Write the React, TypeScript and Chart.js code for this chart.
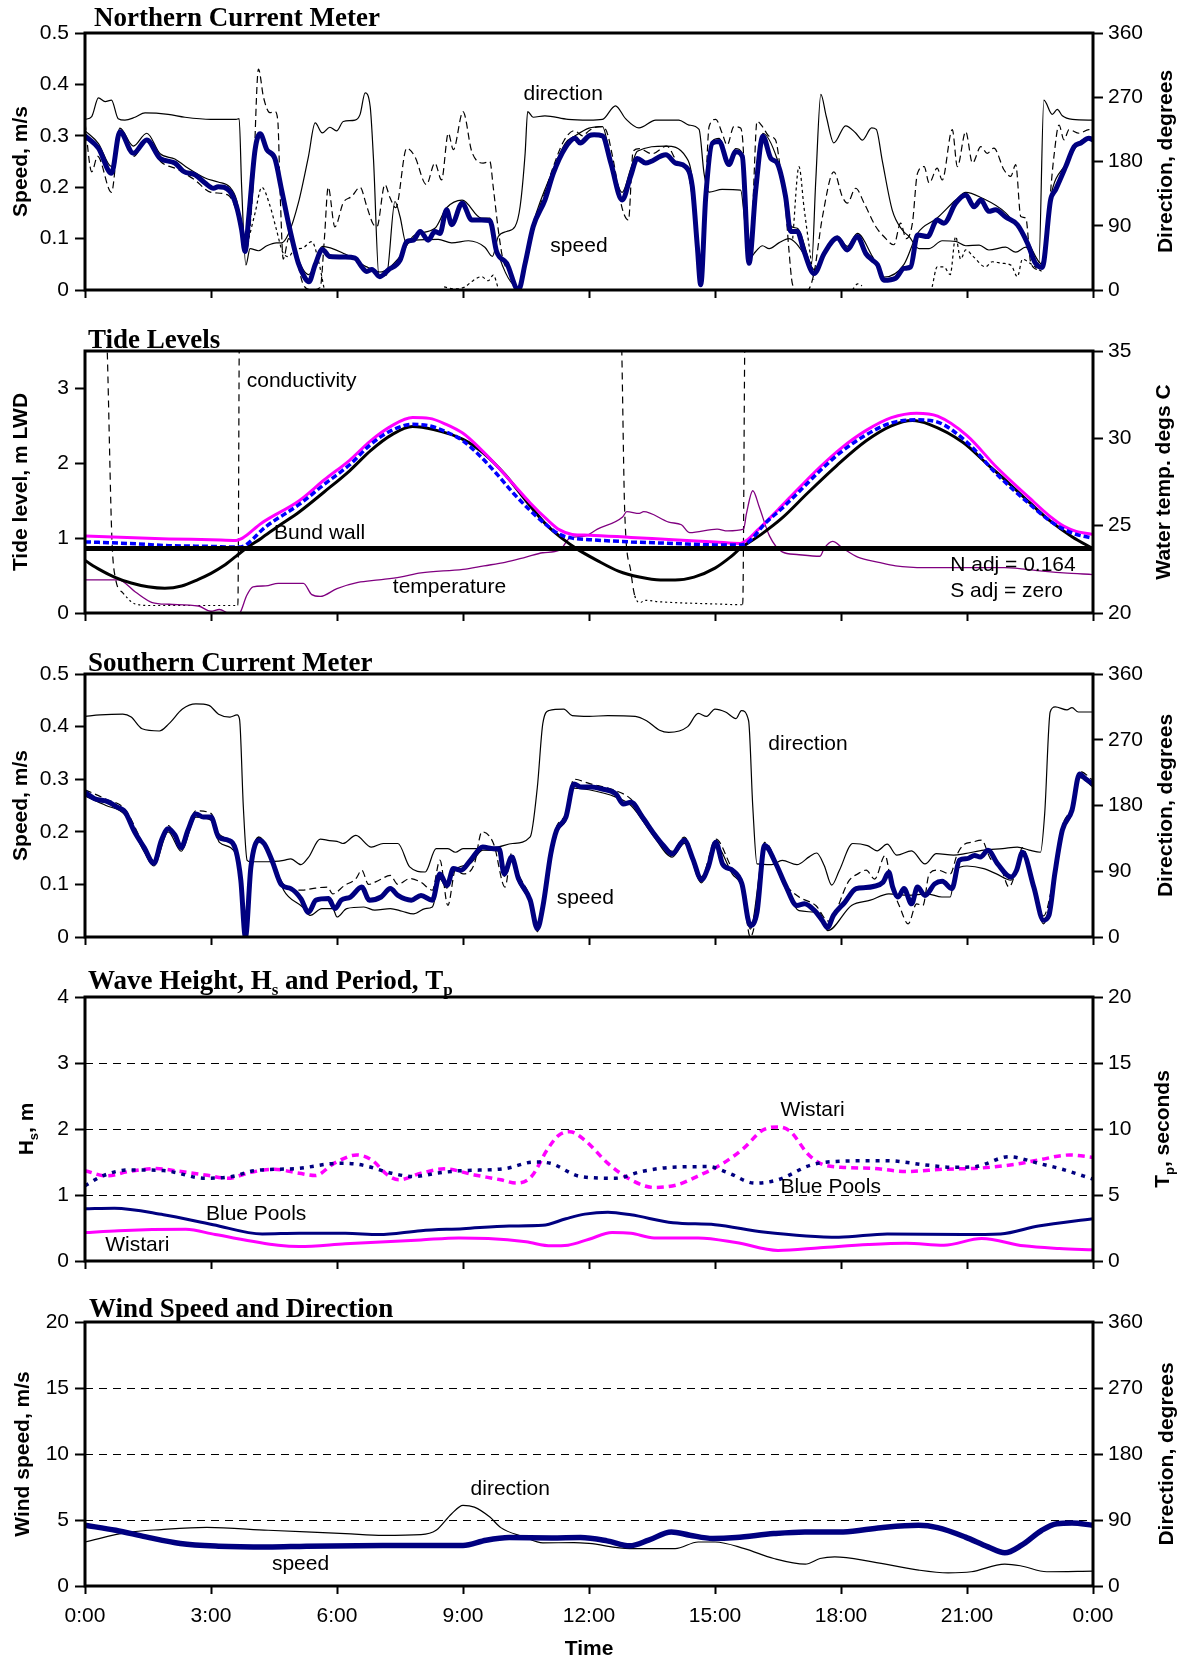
import React, { useEffect, useRef } from "react";
import { Chart, registerables } from "chart.js";

Chart.register(...registerables);

type Pt = [number, number | null];

// ---------------- shared ----------------
const timeLabels = ["0:00", "3:00", "6:00", "9:00", "12:00", "15:00", "18:00", "21:00", "0:00"];

// ---------------- Northern Current Meter ----------------
const northSpeedMid: Pt[] = [
  [0, 0.3], [0.32, 0.276], [0.63, 0.227], [0.83, 0.308], [1.15, 0.266], [1.47, 0.292], [1.79, 0.256], [2.14, 0.247],
  [2.34, 0.231], [2.62, 0.224], [2.86, 0.208], [3.06, 0.198], [3.17, 0.201], [3.45, 0.192], [3.61, 0.162], [3.73, 0.117],
  [3.81, 0.075], [3.9, 0.143], [4.05, 0.273], [4.17, 0.304], [4.33, 0.273], [4.52, 0.256], [4.68, 0.195], [4.88, 0.117],
  [5.08, 0.052], [5.24, 0.023], [5.33, 0.016], [5.48, 0.049], [5.65, 0.079], [5.83, 0.065], [6.19, 0.064], [6.43, 0.062],
  [6.59, 0.045], [6.71, 0.036], [6.83, 0.04], [7.02, 0.026], [7.22, 0.039], [7.5, 0.058], [7.66, 0.094], [7.82, 0.097],
  [7.98, 0.114], [8.17, 0.097], [8.33, 0.114], [8.45, 0.11], [8.61, 0.156], [8.73, 0.127], [8.98, 0.169], [9.21, 0.136],
  [9.44, 0.136], [9.64, 0.135], [9.8, 0.075], [10.04, 0.052], [10.32, 0.0], [10.48, 0.052], [10.67, 0.123], [10.95, 0.175],
  [11.15, 0.227], [11.43, 0.276], [11.67, 0.295], [11.79, 0.286], [12.0, 0.3], [12.12, 0.302], [12.32, 0.3], [12.52, 0.247],
  [12.79, 0.175], [12.99, 0.221], [13.15, 0.256], [13.35, 0.247], [13.83, 0.263], [14.06, 0.247], [14.3, 0.24], [14.46, 0.201],
  [14.58, 0.084], [14.66, 0.01], [14.78, 0.182], [14.94, 0.286], [15.1, 0.289], [15.33, 0.244], [15.49, 0.269], [15.65, 0.26],
  [15.81, 0.052], [15.97, 0.195], [16.14, 0.299], [16.33, 0.256], [16.48, 0.247], [16.68, 0.182], [16.8, 0.114], [16.96, 0.114],
  [17.12, 0.075], [17.36, 0.032], [17.6, 0.071], [17.91, 0.101], [18.15, 0.078], [18.39, 0.104], [18.59, 0.071], [18.75, 0.058],
  [18.87, 0.049], [19.02, 0.019], [19.3, 0.023], [19.5, 0.042], [19.66, 0.045], [19.82, 0.107], [20.06, 0.104], [20.29, 0.136],
  [20.45, 0.13], [20.73, 0.169], [20.97, 0.185], [21.17, 0.162], [21.33, 0.175], [21.52, 0.153], [21.68, 0.156], [21.92, 0.142],
  [22.2, 0.127], [22.44, 0.091], [22.63, 0.052], [22.79, 0.044], [22.99, 0.175], [23.11, 0.195], [23.35, 0.24], [23.55, 0.279],
  [23.71, 0.286], [23.9, 0.295], [24, 0.292],
];

const northSpeedBed: Pt[] = [
  [0, 0.31], [0.32, 0.285], [0.63, 0.24], [0.83, 0.315], [1.15, 0.28], [1.47, 0.305], [1.79, 0.265], [2.14, 0.255],
  [2.4, 0.24], [2.86, 0.218], [3.17, 0.21], [3.45, 0.2], [3.61, 0.175], [3.73, 0.12], [3.81, 0.08], [3.9, 0.14],
  [4.05, 0.27], [4.17, 0.3], [4.33, 0.27], [4.52, 0.25], [4.68, 0.19], [4.88, 0.12], [5.08, 0.06], [5.33, 0.03],
  [5.65, 0.085], [6.19, 0.07], [6.71, 0.045], [7.02, 0.035], [7.5, 0.065], [7.82, 0.105], [8.33, 0.12], [8.61, 0.16],
  [8.98, 0.175], [9.44, 0.14], [9.64, 0.14], [9.8, 0.08], [10.32, 0.005], [10.67, 0.13], [11.15, 0.235], [11.43, 0.285],
  [11.67, 0.3], [12.0, 0.315], [12.32, 0.318], [12.52, 0.255], [12.79, 0.19], [12.99, 0.235], [13.15, 0.27], [13.83, 0.28],
  [14.3, 0.26], [14.46, 0.215], [14.58, 0.09], [14.66, 0.02], [14.78, 0.19], [14.94, 0.29], [15.1, 0.295], [15.33, 0.25],
  [15.49, 0.275], [15.65, 0.265], [15.81, 0.06], [15.97, 0.2], [16.14, 0.305], [16.48, 0.255], [16.68, 0.19], [16.8, 0.125],
  [16.96, 0.12], [17.36, 0.04], [17.6, 0.075], [17.91, 0.105], [18.15, 0.085], [18.39, 0.11], [18.75, 0.065], [19.02, 0.025],
  [19.5, 0.05], [19.82, 0.11], [20.29, 0.14], [20.73, 0.175], [20.97, 0.19], [21.33, 0.18], [21.92, 0.15], [22.44, 0.095],
  [22.79, 0.05], [22.99, 0.18], [23.35, 0.245], [23.71, 0.29], [24, 0.298],
];

const northSpeedSurface: Pt[] = [
  [0, 0.325], [0.16, 0.23], [0.3, 0.26], [0.63, 0.19], [0.83, 0.31], [1.15, 0.26], [1.47, 0.29], [1.8, 0.25], [2.2, 0.235],
  [2.6, 0.215], [3.0, 0.19], [3.4, 0.185], [3.6, 0.155], [3.75, 0.1], [3.83, 0.075], [4.0, 0.2], [4.13, 0.43], [4.25, 0.375],
  [4.4, 0.345], [4.52, 0.347], [4.59, 0.33], [4.65, 0.18], [4.72, 0.06], [4.85, 0.1], [5.0, 0.075], [5.2, 0.01], [5.4, 0.0],
  [5.6, 0.005], [5.7, 0.1], [5.79, 0.2], [5.95, 0.123], [6.15, 0.17], [6.35, 0.182], [6.55, 0.2], [6.7, 0.165], [6.85, 0.13],
  [6.95, 0.123], [7.14, 0.205], [7.26, 0.18], [7.4, 0.16], [7.66, 0.276], [7.85, 0.26], [8.13, 0.205], [8.33, 0.247],
  [8.49, 0.214], [8.65, 0.305], [8.77, 0.273], [9.0, 0.347], [9.21, 0.269], [9.48, 0.247], [9.64, 0.25], [9.72, 0.2],
  [9.84, 0.117], [9.95, 0.06], [10.15, 0.03], [10.32, 0.0], [10.5, 0.05], [10.7, 0.13], [10.95, 0.19], [11.15, 0.24],
  [11.4, 0.29], [11.65, 0.31], [11.85, 0.3], [12.0, 0.31], [12.24, 0.318], [12.4, 0.312], [12.56, 0.26], [12.8, 0.156],
  [12.94, 0.136], [13.05, 0.27], [13.2, 0.275], [13.5, 0.265], [13.85, 0.28], [14.1, 0.25], [14.35, 0.23], [14.5, 0.15],
  [14.6, 0.05], [14.68, 0.01], [14.78, 0.2], [14.86, 0.318], [15.02, 0.332], [15.17, 0.305], [15.29, 0.282], [15.45, 0.318],
  [15.61, 0.315], [15.67, 0.279], [15.77, 0.065], [15.85, 0.05], [15.92, 0.2], [16.0, 0.328], [16.13, 0.318], [16.29, 0.299],
  [16.44, 0.292], [16.56, 0.234], [16.68, 0.16], [16.76, 0.078], [16.84, 0.013], [16.95, 0.0], [17.2, 0.0], [17.35, 0.03],
  [17.56, 0.143], [17.83, 0.23], [18.03, 0.182], [18.15, 0.169], [18.35, 0.198], [18.55, 0.169], [18.83, 0.123], [19.02, 0.104],
  [19.26, 0.088], [19.42, 0.13], [19.55, 0.1], [19.7, 0.13], [19.82, 0.227], [19.98, 0.24], [20.1, 0.208], [20.29, 0.237],
  [20.41, 0.214], [20.65, 0.312], [20.77, 0.24], [20.97, 0.308], [21.13, 0.247], [21.33, 0.279], [21.48, 0.266], [21.64, 0.276],
  [21.88, 0.234], [22.04, 0.221], [22.16, 0.244], [22.28, 0.143], [22.4, 0.14], [22.52, 0.052], [22.7, 0.04], [22.87, 0.09],
  [23.07, 0.26], [23.19, 0.321], [23.31, 0.292], [23.43, 0.312], [23.67, 0.305], [23.9, 0.312], [24, 0.308],
];

// direction, degrees
const northDirection: Pt[] = [
  [0, 239], [0.16, 243], [0.32, 269], [0.48, 264], [0.63, 266], [0.79, 240], [0.95, 238], [1.19, 242], [1.43, 248],
  [1.98, 246], [2.38, 242], [3.0, 239], [3.6, 239], [3.67, 240], [3.73, 144], [3.83, 35], [3.93, 58], [4.13, 55],
  [4.33, 62], [4.56, 66], [4.68, 66], [4.84, 78], [5.08, 122], [5.32, 187], [5.48, 234], [5.65, 220], [5.83, 228],
  [5.99, 223], [6.15, 236], [6.43, 238], [6.55, 246], [6.67, 276], [6.79, 257], [6.87, 182], [7.0, 19], [7.18, 21],
  [7.38, 124], [7.5, 103], [7.65, 65], [7.86, 70], [8.41, 71], [8.73, 66], [9.13, 69], [9.52, 60], [9.7, 47], [9.84, 75],
  [10.04, 82], [10.24, 89], [10.36, 117], [10.48, 192], [10.54, 250], [10.67, 242], [10.95, 244], [11.5, 239], [12, 238],
  [12.32, 239], [12.63, 258], [12.87, 240], [13.19, 227], [13.59, 238], [14.14, 238], [14.38, 231], [14.62, 225],
  [14.74, 163], [14.86, 137], [15.17, 141], [15.61, 140], [15.73, 84], [15.83, 45], [15.97, 54], [16.13, 62], [16.29, 58],
  [16.52, 66], [16.76, 72], [16.92, 66], [17.16, 47], [17.3, 37], [17.4, 154], [17.52, 274], [17.65, 243], [17.83, 206],
  [18.11, 230], [18.35, 220], [18.51, 210], [18.73, 227], [18.84, 225], [18.98, 182], [19.22, 112], [19.46, 84], [19.62, 75],
  [19.86, 58], [20.1, 58], [20.41, 69], [20.73, 68], [20.97, 62], [21.29, 63], [21.52, 56], [21.92, 60], [22.16, 53],
  [22.4, 60], [22.6, 42], [22.71, 37], [22.83, 266], [23.03, 246], [23.15, 253], [23.27, 244], [23.51, 239], [24, 238],
];

const northTraceLow: Pt[] = [
  [3.9, 0.1], [4.05, 0.15], [4.21, 0.2], [4.4, 0.165], [4.55, 0.12], [4.7, 0.075], [4.85, 0.065], [5.0, 0.08], [5.16, 0.081],
  [5.4, 0.094], [5.55, 0.06], [5.7, 0.0], [5.75, null], [8.5, null], [8.55, 0.006], [8.8, 0.002], [9.05, 0.006], [9.2, 0.016],
  [9.44, 0.026], [9.6, 0.018], [9.72, 0.029], [9.85, 0.0], [9.9, null], [16.8, null], [16.85, 0.1], [17.0, 0.24], [17.12, 0.16],
  [17.25, 0.08], [17.35, 0.02], [17.45, null], [18.2, null], [18.27, 0.0], [18.4, 0.012], [18.5, 0.008], [18.6, null],
  [20.1, null], [20.17, 0.006], [20.29, 0.045], [20.45, 0.045], [20.6, 0.03], [20.73, 0.104], [20.85, 0.06], [20.97, 0.078],
  [21.15, 0.065], [21.44, 0.045], [21.6, 0.055], [21.84, 0.052], [22.05, 0.048], [22.2, 0.026], [22.32, 0.06], [22.5, 0.052],
  [22.67, 0.042], [22.8, 0.035],
];

// ---------------- Tide Levels ----------------
const bundWall: Pt[] = [[0, 0.86], [24, 0.86]];

const tideNorth: Pt[] = [
  [0, 1.03], [1, 1.01], [2, 0.99], [3, 0.98], [3.6, 0.97], [3.75, 1.0], [4.2, 1.2], [5.1, 1.5], [5.7, 1.78], [6.3, 2.04],
  [6.8, 2.3], [7.3, 2.5], [7.8, 2.61], [8.2, 2.6], [8.6, 2.52], [9.0, 2.4], [9.4, 2.2], [9.8, 1.97], [10.2, 1.72], [10.6, 1.47],
  [11.0, 1.25], [11.3, 1.11], [11.6, 1.05], [12, 1.04], [13, 1.01], [14, 0.98], [15, 0.95], [15.6, 0.93], [15.75, 0.97],
  [16.0, 1.1], [16.5, 1.38], [17.0, 1.67], [17.5, 1.95], [18.0, 2.2], [18.6, 2.44], [19.2, 2.61], [19.8, 2.67], [20.3, 2.63],
  [21.0, 2.37], [21.7, 1.95], [22.5, 1.53], [23.0, 1.28], [23.3, 1.16], [23.6, 1.09], [24, 1.05],
];

const tideSouth: Pt[] = [
  [0, 0.95], [1, 0.93], [2, 0.9], [3, 0.89], [3.6, 0.88], [3.8, 0.9], [4.3, 1.15], [5.1, 1.45], [5.7, 1.72], [6.3, 1.98],
  [6.8, 2.25], [7.3, 2.44], [7.8, 2.52], [8.2, 2.5], [8.6, 2.42], [9.0, 2.3], [9.4, 2.1], [9.8, 1.86], [10.2, 1.6], [10.6, 1.37],
  [11.0, 1.17], [11.3, 1.05], [11.6, 1.0], [12, 0.98], [13, 0.95], [14, 0.93], [15, 0.91], [15.6, 0.91], [15.8, 0.95],
  [16.2, 1.2], [16.6, 1.4], [17.0, 1.62], [17.5, 1.9], [18.0, 2.15], [18.6, 2.38], [19.2, 2.54], [19.8, 2.58], [20.3, 2.55],
  [21.0, 2.28], [21.7, 1.86], [22.5, 1.45], [23.0, 1.22], [23.3, 1.12], [23.6, 1.05], [24, 1.0],
];

const tidePredicted: Pt[] = [
  [0, 0.7], [0.35, 0.58], [0.7, 0.48], [1.1, 0.4], [1.5, 0.35], [1.9, 0.33], [2.3, 0.36], [2.7, 0.45], [3.0, 0.53],
  [3.3, 0.63], [3.6, 0.76], [3.83, 0.86], [4.2, 1.0], [4.6, 1.16], [5.1, 1.35], [5.7, 1.62], [6.3, 1.9], [6.8, 2.17],
  [7.3, 2.38], [7.8, 2.49], [8.3, 2.45], [9.0, 2.32], [9.5, 2.13], [10.0, 1.85], [10.5, 1.5], [11.0, 1.17], [11.4, 0.98],
  [11.7, 0.86], [12.2, 0.7], [12.7, 0.56], [13.2, 0.48], [13.7, 0.44], [14.05, 0.44], [14.5, 0.48], [15.0, 0.6], [15.35, 0.74],
  [15.6, 0.86], [16.1, 1.05], [16.6, 1.27], [17.2, 1.6], [17.9, 1.97], [18.6, 2.3], [19.2, 2.5], [19.7, 2.57], [20.1, 2.52],
  [20.9, 2.28], [21.5, 1.98], [22.0, 1.73], [22.5, 1.47], [23.0, 1.22], [23.5, 1.02], [24, 0.86],
];

// off-scale conductivity trace, in tide-axis units
const conductivityTrace: Pt[] = [
  [0, 4], [0.5, 4], [0.53, 3.5], [0.64, 1.0], [0.73, 0.45], [0.9, 0.27], [1.2, 0.12], [1.6, 0.1], [3.64, 0.1], [3.68, 4],
  [12.75, 4], [12.85, 1.36], [13.0, 0.54], [13.09, 0.23], [13.23, 0.14], [13.32, 0.17], [13.68, 0.15], [15.05, 0.12],
  [15.66, 0.11], [15.72, 4], [24, 4],
];

// water temperature, deg C
const waterTemp: Pt[] = [
  [0, 21.9], [0.8, 21.9], [1.2, 21.2], [1.6, 20.6], [2.0, 20.5], [2.7, 20.4], [3.0, 20.1], [3.2, 20.2], [3.4, 20.0],
  [3.6, 19.85], [3.7, 20.05], [3.85, 21.0], [4.0, 21.5], [4.3, 21.55], [4.6, 21.7], [5.2, 21.7], [5.4, 21.05], [5.6, 20.95],
  [6.0, 21.4], [6.5, 21.75], [7.0, 21.9], [7.5, 22.06], [8.0, 22.3], [9.0, 22.5], [9.5, 22.7], [10.0, 22.9], [10.5, 23.2],
  [10.9, 23.45], [11.3, 23.6], [11.55, 24.3], [11.9, 24.4], [12.2, 24.8], [12.8, 25.5], [12.9, 25.8], [13.2, 25.7],
  [13.3, 25.8], [13.9, 25.2], [14.2, 25.05], [14.4, 24.6], [15.05, 24.8], [15.3, 24.7], [15.68, 24.8], [15.75, 25.7],
  [15.9, 27.0], [16.05, 26.1], [16.3, 24.4], [16.6, 23.5], [16.95, 23.35], [17.5, 23.25], [17.6, 23.7], [17.8, 24.1],
  [18.05, 23.7], [18.4, 23.2], [18.9, 22.9], [19.3, 22.7], [20.0, 22.6], [21.0, 22.6], [21.9, 22.6], [22.8, 22.4],
  [23.3, 22.3], [24, 22.2],
];

// ---------------- Southern Current Meter ----------------
const southSpeedMid: Pt[] = [
  [0, 0.275], [0.23, 0.263], [0.55, 0.257], [0.77, 0.247], [0.95, 0.238], [1.18, 0.2], [1.41, 0.17], [1.64, 0.14],
  [1.82, 0.184], [1.98, 0.206], [2.14, 0.194], [2.29, 0.17], [2.45, 0.203], [2.64, 0.234], [2.82, 0.228], [3.0, 0.228],
  [3.18, 0.19], [3.41, 0.184], [3.59, 0.165], [3.71, 0.108], [3.82, 0.0], [3.95, 0.133], [4.14, 0.184], [4.27, 0.177],
  [4.45, 0.146], [4.68, 0.099], [4.9, 0.092], [5.14, 0.073], [5.32, 0.047], [5.5, 0.07], [5.8, 0.073], [5.95, 0.054],
  [6.1, 0.07], [6.32, 0.076], [6.59, 0.095], [6.77, 0.07], [7.05, 0.076], [7.27, 0.092], [7.45, 0.079], [7.77, 0.07],
  [8.0, 0.079], [8.27, 0.07], [8.45, 0.12], [8.62, 0.098], [8.77, 0.13], [8.95, 0.127], [9.18, 0.146], [9.47, 0.171],
  [9.73, 0.168], [9.86, 0.168], [9.98, 0.12], [10.16, 0.152], [10.32, 0.111], [10.6, 0.07], [10.77, 0.016], [10.9, 0.057],
  [11.09, 0.158], [11.23, 0.203], [11.45, 0.228], [11.64, 0.291], [11.82, 0.285], [12.05, 0.285], [12.27, 0.282],
  [12.64, 0.272], [12.82, 0.253], [13.0, 0.256], [13.27, 0.228], [13.55, 0.196], [13.77, 0.174], [13.98, 0.158],
  [14.27, 0.184], [14.47, 0.149], [14.68, 0.109], [14.84, 0.133], [15.02, 0.18], [15.18, 0.139], [15.41, 0.127],
  [15.64, 0.101], [15.84, 0.022], [16.0, 0.047], [16.18, 0.174], [16.45, 0.139], [16.68, 0.098], [16.95, 0.06],
  [17.13, 0.063], [17.36, 0.051], [17.55, 0.032], [17.68, 0.018], [17.82, 0.041], [18.09, 0.066], [18.36, 0.092],
  [18.59, 0.094], [18.77, 0.096], [19.0, 0.104], [19.14, 0.123], [19.23, 0.095], [19.36, 0.076], [19.5, 0.092],
  [19.68, 0.063], [19.82, 0.095], [20.0, 0.079], [20.23, 0.101], [20.41, 0.106], [20.64, 0.092], [20.82, 0.146],
  [21.0, 0.149], [21.18, 0.155], [21.32, 0.152], [21.5, 0.165], [21.73, 0.139], [22.05, 0.114], [22.18, 0.127],
  [22.32, 0.161], [22.59, 0.095], [22.82, 0.032], [22.95, 0.041], [23.09, 0.12], [23.27, 0.203], [23.5, 0.241],
  [23.68, 0.31], [23.82, 0.301], [24, 0.291],
];

const southSpeedLow: Pt[] = [
  [0, 0.268], [0.5, 0.25], [0.95, 0.232], [1.4, 0.163], [1.64, 0.135], [1.98, 0.2], [2.29, 0.163], [2.64, 0.228],
  [3.0, 0.222], [3.2, 0.18], [3.59, 0.158], [3.71, 0.1], [3.82, 0.0], [3.95, 0.125], [4.14, 0.19], [4.45, 0.15],
  [4.73, 0.089], [5.18, 0.057], [5.36, 0.041], [5.64, 0.054], [5.9, 0.054], [6.0, 0.038], [6.23, 0.054], [6.64, 0.057],
  [6.9, 0.051], [7.27, 0.054], [7.55, 0.049], [7.82, 0.044], [8.1, 0.054], [8.27, 0.057], [8.45, 0.11], [8.62, 0.093],
  [8.77, 0.125], [9.18, 0.14], [9.47, 0.165], [9.86, 0.163], [9.98, 0.115], [10.16, 0.145], [10.32, 0.105], [10.6, 0.065],
  [10.77, 0.01], [10.9, 0.05], [11.09, 0.15], [11.23, 0.198], [11.45, 0.222], [11.64, 0.283], [12.0, 0.28], [12.64, 0.266],
  [13.0, 0.25], [13.55, 0.19], [13.98, 0.152], [14.27, 0.178], [14.68, 0.103], [15.02, 0.174], [15.41, 0.12], [15.64, 0.095],
  [15.84, 0.015], [16.18, 0.168], [16.68, 0.092], [17.0, 0.05], [17.5, 0.045], [17.68, 0.012], [18.25, 0.06], [18.7, 0.07],
  [19.14, 0.082], [19.6, 0.079], [20.05, 0.082], [20.4, 0.076], [20.6, 0.076], [20.73, 0.127], [21.0, 0.135], [21.4, 0.13],
  [21.7, 0.12], [22.05, 0.108], [22.32, 0.155], [22.59, 0.088], [22.82, 0.025], [23.09, 0.113], [23.27, 0.198], [23.5, 0.235],
  [23.68, 0.303], [24, 0.285],
];

const southSpeedHigh: Pt[] = [
  [0, 0.28], [0.5, 0.262], [0.95, 0.243], [1.4, 0.175], [1.64, 0.145], [1.98, 0.212], [2.29, 0.175], [2.64, 0.24],
  [3.0, 0.235], [3.2, 0.195], [3.59, 0.17], [3.71, 0.11], [3.82, 0.0], [3.95, 0.14], [4.14, 0.19], [4.45, 0.15], [4.73, 0.1],
  [5.18, 0.089], [5.41, 0.092], [5.77, 0.095], [5.9, 0.082], [6.18, 0.098], [6.45, 0.111], [6.59, 0.127], [6.75, 0.1],
  [7.0, 0.108], [7.27, 0.117], [7.45, 0.1], [7.73, 0.111], [8.0, 0.104], [8.27, 0.089], [8.45, 0.146], [8.64, 0.06],
  [8.82, 0.127], [9.0, 0.12], [9.27, 0.139], [9.45, 0.2], [9.73, 0.177], [10.0, 0.095], [10.16, 0.16], [10.32, 0.12],
  [10.6, 0.075], [10.77, 0.02], [10.9, 0.06], [11.09, 0.165], [11.23, 0.21], [11.45, 0.235], [11.64, 0.3], [12.0, 0.292],
  [12.64, 0.278], [13.0, 0.262], [13.55, 0.2], [13.98, 0.163], [14.27, 0.19], [14.68, 0.115], [15.02, 0.186], [15.41, 0.13],
  [15.64, 0.105], [15.84, 0.0], [16.0, 0.05], [16.18, 0.18], [16.68, 0.1], [17.0, 0.076], [17.4, 0.06], [17.7, 0.03],
  [18.2, 0.108], [18.4, 0.12], [18.6, 0.127], [18.8, 0.11], [19.05, 0.155], [19.2, 0.1], [19.4, 0.057], [19.6, 0.025],
  [19.8, 0.063], [19.95, 0.06], [20.1, 0.12], [20.3, 0.127], [20.6, 0.12], [20.77, 0.158], [20.95, 0.177], [21.1, 0.18],
  [21.35, 0.184], [21.55, 0.15], [21.8, 0.133], [22.0, 0.095], [22.18, 0.13], [22.32, 0.17], [22.59, 0.1], [22.82, 0.04],
  [23.09, 0.125], [23.27, 0.21], [23.5, 0.248], [23.68, 0.315], [24, 0.298],
];

// direction, degrees
const southDirection: Pt[] = [
  [0, 302], [0.36, 304], [0.9, 305], [1.1, 301], [1.36, 285], [1.77, 282], [2.0, 292], [2.32, 312], [2.64, 319], [2.95, 317],
  [3.18, 305], [3.45, 301], [3.62, 304], [3.68, 298], [3.77, 178], [3.86, 105], [3.95, 103], [4.36, 103], [4.73, 105],
  [4.9, 107], [5.14, 99], [5.32, 109], [5.6, 134], [5.82, 132], [6.0, 131], [6.14, 128], [6.45, 139], [6.82, 123], [7.1, 128],
  [7.45, 128], [7.73, 96], [8.1, 89], [8.36, 121], [8.64, 121], [8.82, 116], [9.0, 121], [9.36, 121], [9.82, 123],
  [10.18, 128], [10.6, 137], [10.77, 205], [10.9, 292], [11.05, 310], [11.4, 312], [11.6, 303], [12.0, 302], [12.45, 303],
  [13.1, 302], [13.37, 296], [13.68, 283], [13.9, 280], [14.35, 288], [14.6, 306], [14.8, 302], [15.0, 312], [15.25, 308],
  [15.5, 299], [15.63, 310], [15.8, 296], [15.9, 178], [16.0, 100], [16.35, 99], [16.6, 105], [16.95, 99], [17.25, 110],
  [17.42, 115], [17.6, 98], [17.78, 71], [17.96, 91], [18.28, 128], [18.63, 125], [18.86, 118], [19.1, 127], [19.33, 112],
  [19.68, 118], [20.0, 100], [20.27, 114], [20.68, 112], [20.95, 114], [21.4, 119], [21.85, 121], [22.2, 123], [22.48, 119],
  [22.75, 116], [22.85, 169], [22.98, 308], [23.1, 315], [23.38, 311], [23.5, 314], [23.65, 308], [24, 308],
];

// ---------------- Wave Height and Period ----------------
const bluePoolsHs: Pt[] = [
  [0, 0.79], [0.7, 0.8], [1.87, 0.7], [3.05, 0.55], [4.22, 0.41], [5.1, 0.42], [6.2, 0.42], [7.0, 0.4], [8.0, 0.46],
  [9.0, 0.49], [10.1, 0.53], [10.9, 0.54], [11.45, 0.64], [11.9, 0.71], [12.45, 0.74], [13.0, 0.7], [14.0, 0.58],
  [15.0, 0.55], [16.15, 0.44], [17.95, 0.36], [19.1, 0.41], [20.9, 0.4], [21.8, 0.41], [22.7, 0.53], [24, 0.64],
];

const wistariHs: Pt[] = [
  [0, 0.43], [0.8, 0.46], [2.4, 0.48], [3.1, 0.4], [4.6, 0.24], [5.1, 0.22], [6.2, 0.26], [8.0, 0.32], [8.9, 0.35],
  [9.6, 0.34], [10.5, 0.29], [11.1, 0.23], [11.5, 0.24], [12.0, 0.33], [12.55, 0.43], [13.0, 0.42], [13.55, 0.35],
  [14.6, 0.35], [15.5, 0.28], [16.5, 0.16], [17.5, 0.2], [18.65, 0.25], [19.55, 0.27], [20.45, 0.24], [21.35, 0.34],
  [22.35, 0.23], [23.2, 0.19], [24, 0.17],
];

// peak period, seconds
const bluePoolsTp: Pt[] = [
  [0, 5.7], [0.42, 6.45], [1.05, 6.9], [1.87, 6.85], [2.86, 6.27], [3.5, 6.4], [4.04, 6.85], [5.03, 7.0], [6.03, 7.4],
  [6.48, 7.33], [6.75, 7.15], [7.3, 6.65], [7.83, 6.4], [8.37, 6.65], [8.9, 6.83], [10.0, 7.0], [10.7, 7.5], [11.08, 7.4],
  [11.8, 6.4], [12.63, 6.27], [13.25, 6.78], [13.97, 7.1], [14.86, 7.15], [15.3, 6.7], [15.95, 5.9], [16.5, 6.15],
  [17.3, 7.28], [18.2, 7.58], [19.1, 7.6], [20.0, 7.28], [20.7, 7.1], [21.2, 7.15], [22.0, 7.9], [22.7, 7.4], [23.27, 6.95],
  [24, 6.2],
];

const wistariTp: Pt[] = [
  [0, 6.85], [0.5, 6.45], [1.05, 6.78], [1.7, 7.0], [2.23, 6.8], [2.86, 6.52], [3.4, 6.27], [3.95, 6.72], [4.5, 6.95],
  [5.1, 6.65], [5.48, 6.47], [5.93, 7.4], [6.47, 8.03], [6.83, 7.65], [7.2, 6.52], [7.47, 6.15], [8.0, 6.65], [8.55, 6.98],
  [9.27, 6.52], [9.9, 6.15], [10.27, 5.9], [10.63, 6.4], [11.0, 8.4], [11.27, 9.5], [11.54, 9.8], [11.9, 9.15], [12.45, 7.4],
  [13.0, 6.15], [13.55, 5.57], [14.1, 5.77], [14.6, 6.45], [15.13, 7.28], [15.68, 8.53], [16.13, 9.9], [16.5, 10.16],
  [16.8, 9.8], [17.2, 8.15], [17.5, 7.4], [18.0, 7.1], [18.73, 7.03], [19.55, 6.78], [20.45, 6.95], [21.27, 7.03],
  [22.2, 7.35], [22.7, 7.65], [23.44, 8.03], [24, 7.85],
];

// ---------------- Wind ----------------
const windSpeed: Pt[] = [
  [0, 4.6], [0.73, 4.22], [1.45, 3.72], [2.27, 3.22], [3.18, 3.02], [4.36, 2.96], [5.27, 3.02], [7.1, 3.07], [9.0, 3.07],
  [9.55, 3.47], [10.1, 3.67], [11.1, 3.64], [11.8, 3.67], [12.43, 3.42], [12.97, 3.04], [13.42, 3.47], [13.96, 4.1],
  [14.4, 3.85], [14.95, 3.6], [15.5, 3.67], [16.4, 3.97], [17.14, 4.1], [18.05, 4.1], [18.95, 4.42], [19.85, 4.6],
  [20.3, 4.42], [20.95, 3.72], [21.5, 2.96], [21.9, 2.51], [22.3, 3.09], [22.78, 4.22], [23.14, 4.72], [23.5, 4.77],
  [24, 4.6],
];

// wind direction, degrees
const windDirection: Pt[] = [
  [0, 60], [1.0, 73], [1.82, 77], [2.9, 80], [4.36, 76], [6.2, 71.5], [7.1, 69], [8.0, 70], [8.36, 76], [8.73, 98.6],
  [9.0, 110], [9.27, 107.6], [9.64, 94], [9.9, 79.6], [10.45, 67], [10.9, 58.8], [11.64, 59.2], [12.0, 58], [12.97, 51],
  [14.05, 51], [14.6, 60], [15.0, 60], [15.7, 51], [16.4, 37.5], [17.15, 29.8], [17.5, 37.5], [17.85, 39.8], [18.75, 33],
  [19.85, 21.7], [20.55, 18], [21.1, 19.4], [21.9, 29.8], [22.27, 27.6], [22.9, 19.4], [24, 20.3],
];

// ---------------- rendering ----------------
const SANS = "'Liberation Sans', Arial, Helvetica, sans-serif";
const SERIF = "'Liberation Serif', 'Times New Roman', serif";
const PAD_TOP = 33;
const W = 1184;
const AXIS_L = 85;
const AXIS_R = 91;

type Seg = { t: string; sub?: boolean };
type Note = { text: string; t: number; v: number; axis?: string };

interface Panel {
  key: string;
  top: number;
  plotH: number;
  bottom: number;
  title: Seg[];
  titleDx: number;
  titleDy: number;
  leftTitle: Seg[];
  leftX: number;
  rightTitle: Seg[];
  rightX: number;
  y: { min: number; max: number; step: number };
  y2: { min: number; max: number; step: number };
  dashedGrid: boolean;
  xLabels: boolean;
  datasets: any[];
  notes: Note[];
}

function ds(data: Pt[], color: string, width: number, dash: number[] = [], axis = "y", extra: any = {}) {
  return {
    data,
    borderColor: color,
    backgroundColor: color,
    borderWidth: width,
    borderDash: dash,
    yAxisID: axis,
    pointRadius: 0,
    pointHoverRadius: 0,
    fill: false,
    cubicInterpolationMode: "monotone",
    ...extra,
  };
}

function drawSegs(ctx: CanvasRenderingContext2D, segs: Seg[], x: number, y: number, size: number, weight: string, family: string, align: "left" | "center") {
  const subSize = Math.round(size * 0.62);
  const fontOf = (s: Seg) => `${weight} ${s.sub ? subSize : size}px ${family}`;
  let total = 0;
  for (const s of segs) {
    ctx.font = fontOf(s);
    total += ctx.measureText(s.t).width;
  }
  let cx = align === "center" ? x - total / 2 : x;
  ctx.textAlign = "left";
  ctx.textBaseline = "alphabetic";
  for (const s of segs) {
    ctx.font = fontOf(s);
    ctx.fillText(s.t, cx, y + (s.sub ? size * 0.24 : 0));
    cx += ctx.measureText(s.t).width;
  }
}

function drawVertical(ctx: CanvasRenderingContext2D, segs: Seg[], cx: number, cy: number, size: number) {
  ctx.save();
  ctx.translate(cx, cy);
  ctx.rotate(-Math.PI / 2);
  drawSegs(ctx, segs, 0, size * 0.36, size, "bold", SANS, "center");
  ctx.restore();
}

function decoPlugin(p: Panel) {
  return {
    id: "deco_" + p.key,
    afterDraw(chart: any) {
      const { ctx, chartArea: a, scales } = chart;
      ctx.save();
      ctx.fillStyle = "#000";
      ctx.strokeStyle = "#000";
      ctx.lineWidth = 3;
      ctx.strokeRect(a.left, a.top, a.right - a.left, a.bottom - a.top);
      drawSegs(ctx, p.title, a.left + p.titleDx, a.top - p.titleDy, 27, "bold", SERIF, "left");
      const cy = (a.top + a.bottom) / 2;
      drawVertical(ctx, p.leftTitle, p.leftX, cy, 21);
      drawVertical(ctx, p.rightTitle, p.rightX, cy, 21);
      ctx.font = `21px ${SANS}`;
      ctx.textAlign = "left";
      ctx.textBaseline = "middle";
      for (const n of p.notes) {
        const sx = scales.x.getPixelForValue(n.t);
        const sy = scales[n.axis || "y"].getPixelForValue(n.v);
        ctx.fillText(n.text, sx, sy);
      }
      if (p.xLabels) {
        ctx.font = `bold 21px ${SANS}`;
        ctx.textAlign = "center";
        ctx.fillText("Time", (a.left + a.right) / 2, a.bottom + 63);
      }
      ctx.restore();
    },
  };
}

function buildConfig(p: Panel): any {
  const tickFont = { family: SANS, size: 21 };
  return {
    type: "line",
    data: { datasets: p.datasets },
    options: {
      responsive: false,
      maintainAspectRatio: false,
      animation: false,
      devicePixelRatio: 1,
      events: [],
      layout: { padding: { top: PAD_TOP, left: 0, right: 0, bottom: 0 } },
      plugins: { legend: { display: false }, tooltip: { enabled: false }, title: { display: false } },
      elements: { point: { radius: 0 }, line: { borderJoinStyle: "round", borderCapStyle: "butt" } },
      scales: {
        x: {
          type: "linear",
          min: 0,
          max: 24,
          ticks: {
            stepSize: 3,
            display: p.xLabels,
            autoSkip: false,
            maxRotation: 0,
            color: "#000",
            font: tickFont,
            padding: 10,
            callback: (_v: any, i: number) => timeLabels[i],
          },
          grid: { drawOnChartArea: false, drawTicks: true, tickLength: 8, tickWidth: 2, tickColor: "#000", color: "#000" },
          border: { display: false },
          afterFit: (s: any) => { s.height = p.bottom; },
        },
        y: {
          position: "left",
          min: p.y.min,
          max: p.y.max,
          ticks: { stepSize: p.y.step, includeBounds: false, color: "#000", font: tickFont, padding: 6 },
          grid: { drawOnChartArea: p.dashedGrid, color: "#000", lineWidth: 1, tickLength: 10, tickWidth: 2, tickColor: "#000" },
          border: { display: false, dash: p.dashedGrid ? [8, 6] : [] },
          afterFit: (s: any) => { s.width = AXIS_L; },
        },
        y2: {
          position: "right",
          min: p.y2.min,
          max: p.y2.max,
          ticks: { stepSize: p.y2.step, includeBounds: false, color: "#000", font: tickFont, padding: 5 },
          grid: { drawOnChartArea: false, color: "#000", tickLength: 10, tickWidth: 2, tickColor: "#000" },
          border: { display: false },
          afterFit: (s: any) => { s.width = AXIS_R; },
        },
      },
    },
    plugins: [decoPlugin(p)],
  };
}

const condDash = {
  borderDash: (c: any) => (c.p0.parsed.y < 0.3 && c.p1.parsed.y < 0.3 ? [2, 3] : [7, 5]),
};

const panels: Panel[] = [
  {
    key: "north",
    top: 33,
    plotH: 257,
    bottom: 20,
    title: [{ t: "Northern Current Meter" }],
    titleDx: 9,
    titleDy: 7,
    leftTitle: [{ t: "Speed, m/s" }],
    leftX: 19,
    rightTitle: [{ t: "Direction, degrees" }],
    rightX: 1164,
    y: { min: 0, max: 0.5, step: 0.1 },
    y2: { min: 0, max: 360, step: 90 },
    dashedGrid: false,
    xLabels: false,
    datasets: [
      ds(northSpeedMid, "#000080", 5),
      ds(northSpeedBed, "#000", 1.2),
      ds(northSpeedSurface, "#000", 1.2, [7, 4]),
      ds(northDirection, "#000", 1.2, [], "y2"),
      ds(northTraceLow, "#000", 1.2, [3, 3]),
    ],
    notes: [
      { text: "direction", t: 10.44, v: 0.381 },
      { text: "speed", t: 11.08, v: 0.086 },
    ],
  },
  {
    key: "tide",
    top: 351,
    plotH: 262,
    bottom: 20,
    title: [{ t: "Tide Levels" }],
    titleDx: 3,
    titleDy: 3,
    leftTitle: [{ t: "Tide level, m LWD" }],
    leftX: 19,
    rightTitle: [{ t: "Water temp. degs C" }],
    rightX: 1162,
    y: { min: 0, max: 3.5, step: 1 },
    y2: { min: 20, max: 35, step: 5 },
    dashedGrid: false,
    xLabels: false,
    datasets: [
      ds(bundWall, "#000", 5, [], "y", { cubicInterpolationMode: "default", tension: 0 }),
      ds(tideSouth, "#0000ff", 3.5, [6, 3]),
      ds(tideNorth, "#ff00ff", 3),
      ds(tidePredicted, "#000", 3),
      ds(waterTemp, "#800080", 1.3, [], "y2"),
      ds(conductivityTrace, "#000", 1.2, [], "y", { segment: condDash }),
    ],
    notes: [
      { text: "conductivity", t: 3.85, v: 3.09 },
      { text: "Bund wall", t: 4.5, v: 1.07 },
      { text: "temperature", t: 7.33, v: 0.35 },
      { text: "N adj = 0.164", t: 20.6, v: 0.64 },
      { text: "S adj = zero", t: 20.6, v: 0.29 },
    ],
  },
  {
    key: "south",
    top: 674,
    plotH: 263,
    bottom: 20,
    title: [{ t: "Southern Current Meter" }],
    titleDx: 3,
    titleDy: 3,
    leftTitle: [{ t: "Speed, m/s" }],
    leftX: 19,
    rightTitle: [{ t: "Direction, degrees" }],
    rightX: 1164,
    y: { min: 0, max: 0.5, step: 0.1 },
    y2: { min: 0, max: 360, step: 90 },
    dashedGrid: false,
    xLabels: false,
    datasets: [
      ds(southSpeedMid, "#000080", 5),
      ds(southSpeedLow, "#000", 1.2),
      ds(southSpeedHigh, "#000", 1.2, [7, 4]),
      ds(southDirection, "#000", 1.2, [], "y2"),
    ],
    notes: [
      { text: "direction", t: 16.27, v: 0.367 },
      { text: "speed", t: 11.23, v: 0.074 },
    ],
  },
  {
    key: "wave",
    top: 997,
    plotH: 264,
    bottom: 20,
    title: [{ t: "Wave Height, H" }, { t: "s", sub: true }, { t: " and Period, T" }, { t: "p", sub: true }],
    titleDx: 3,
    titleDy: 8,
    leftTitle: [{ t: "H" }, { t: "s", sub: true }, { t: ", m" }],
    leftX: 25,
    rightTitle: [{ t: "T" }, { t: "p", sub: true }, { t: ", seconds" }],
    rightX: 1161,
    y: { min: 0, max: 4, step: 1 },
    y2: { min: 0, max: 20, step: 5 },
    dashedGrid: true,
    xLabels: false,
    datasets: [
      ds(bluePoolsHs, "#000080", 3),
      ds(wistariHs, "#ff00ff", 3),
      ds(bluePoolsTp, "#000080", 3.5, [4, 6], "y2"),
      ds(wistariTp, "#ff00ff", 3.5, [7, 5], "y2"),
    ],
    notes: [
      { text: "Wistari", t: 16.56, v: 2.29 },
      { text: "Blue Pools", t: 16.56, v: 1.12 },
      { text: "Blue Pools", t: 2.88, v: 0.71 },
      { text: "Wistari", t: 0.48, v: 0.24 },
    ],
  },
  {
    key: "wind",
    top: 1322,
    plotH: 264,
    bottom: 74,
    title: [{ t: "Wind Speed and Direction" }],
    titleDx: 4,
    titleDy: 5,
    leftTitle: [{ t: "Wind speed, m/s" }],
    leftX: 21,
    rightTitle: [{ t: "Direction, degrees" }],
    rightX: 1165,
    y: { min: 0, max: 20, step: 5 },
    y2: { min: 0, max: 360, step: 90 },
    dashedGrid: true,
    xLabels: true,
    datasets: [
      ds(windSpeed, "#000080", 5.5),
      ds(windDirection, "#000", 1.2, [], "y2"),
    ],
    notes: [
      { text: "direction", t: 9.18, v: 7.35 },
      { text: "speed", t: 4.45, v: 1.67 },
    ],
  },
];

function PanelChart({ p }: { p: Panel }) {
  const ref = useRef<HTMLCanvasElement | null>(null);
  const h = PAD_TOP + p.plotH + p.bottom;
  useEffect(() => {
    if (!ref.current) return;
    const chart = new Chart(ref.current, buildConfig(p));
    return () => chart.destroy();
  }, [p]);
  return (
    <div style={{ position: "absolute", left: 0, top: p.top - PAD_TOP, width: W, height: h }}>
      <canvas ref={ref} width={W} height={h} style={{ display: "block", width: W, height: h }} />
    </div>
  );
}

export default function App() {
  return (
    <div style={{ position: "absolute", left: 0, top: 0, width: W, height: 1660, overflow: "hidden", background: "#fff" }}>
      {panels.map((p) => (
        <PanelChart key={p.key} p={p} />
      ))}
    </div>
  );
}
